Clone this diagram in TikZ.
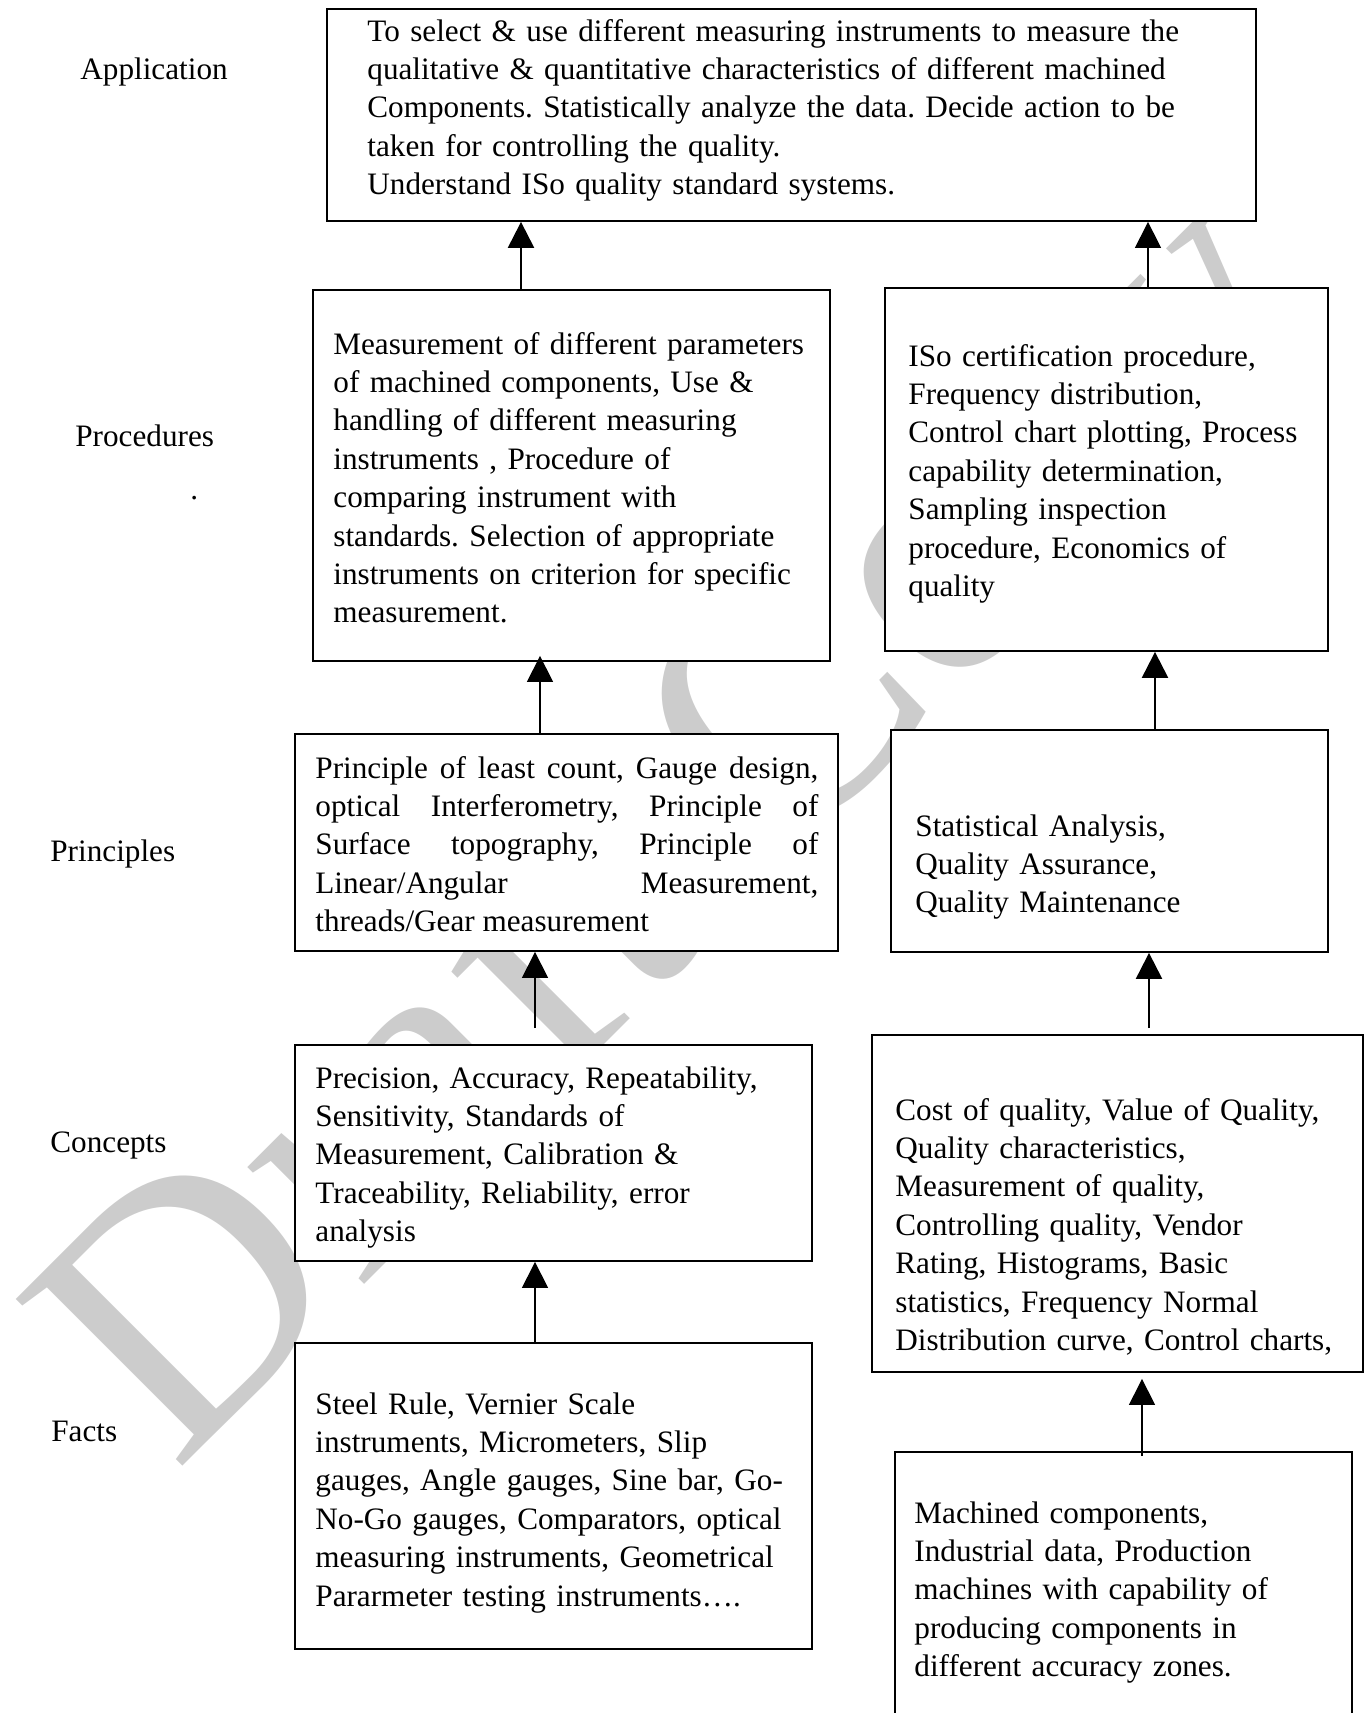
\documentclass[tikz,border=0pt]{standalone}
\usepackage{fontspec}
\setmainfont{Liberation Serif}
\frenchspacing
\usetikzlibrary{arrows.meta,fit}
\tikzset{
  box/.style={draw, fill=white, line width=0.9pt, inner sep=0pt},
  txt/.style={anchor=base west, inner sep=0pt, align=left, font=\fontsize{15.6}{19.2}\selectfont},
  lbl/.style={anchor=base west, inner sep=0pt, font=\fontsize{15.6}{19.2}\selectfont},
  up/.style={-{Triangle[length=13pt,width=13pt]}, line width=0.65pt},
  upthick/.style={up, line width=1.1pt},
  watermark/.style={anchor=base west, inner sep=0pt, rotate=45, text=black!20, font=\fontsize{180}{180}\selectfont}
}
\begin{document}
\begin{tikzpicture}[x=0.5pt, y=-0.5pt]
\useasboundingbox (0,0) rectangle (1369,1713);
\clip (0,0) rectangle (1369,1713);
\node[watermark] (draft) at (175,1474) {Draft Copy};
\node[lbl] (application) at (80,79) {Application};
\node[lbl] (procedures) at (75,446) {Procedures};
\node[lbl] (dot) at (190,499) {.};
\node[lbl] (principles) at (50,861) {Principles};
\node[lbl] (concepts) at (50,1152) {Concepts};
\node[lbl] (facts) at (51,1441) {Facts};
\node[box, fit={(327,9) (1256,221)}] (app) {};
\node[box, fit={(313,290) (830,661)}] (procL) {};
\node[box, fit={(885,288) (1328,651)}] (procR) {};
\node[box, fit={(295,734) (838,951)}] (prinL) {};
\node[box, fit={(891,730) (1328,952)}] (prinR) {};
\node[box, fit={(295,1045) (812,1261)}] (conL) {};
\node[box, fit={(872,1035) (1363,1372)}] (conR) {};
\node[box, fit={(295,1343) (812,1649)}] (factL) {};
\node[box, fit={(895,1452) (1352,1760)}] (factR) {};
\node[txt, text width=444pt] (apptxt) at (367,41) {To select \& use different measuring instruments to measure the\\
qualitative \& quantitative characteristics of different machined\\
Components. Statistically analyze the data. Decide action to be\\
taken for controlling the quality.\\
Understand ISo quality standard systems.};
\node[txt, text width=248pt] (procLtxt) at (333,354) {Measurement of different parameters\\
of machined components, Use \&\\
handling of different measuring\\
instruments , Procedure of\\
comparing instrument with\\
standards. Selection of appropriate\\
instruments on criterion for specific\\
measurement.};
\node[txt, text width=210pt] (procRtxt) at (908,366) {ISo certification procedure,\\
Frequency distribution,\\
Control chart plotting, Process\\
capability determination,\\
Sampling inspection\\
procedure, Economics of\\
quality};
\node[txt, align=justify, text width=251.5pt] (prinLtxt) at (315,778) {Principle of least count, Gauge design,\linebreak
optical Interferometry, Principle of\linebreak
Surface topography, Principle of\linebreak
Linear/Angular Measurement,\linebreak
threads/Gear measurement};
\node[txt, text width=206pt] (prinRtxt) at (915,836) {Statistical Analysis,\\
Quality Assurance,\\
Quality Maintenance};
\node[txt, text width=248pt] (conLtxt) at (315,1088) {Precision, Accuracy, Repeatability,\\
Sensitivity, Standards of\\
Measurement, Calibration \&\\
Traceability, Reliability, error\\
analysis};
\node[txt, text width=234pt] (conRtxt) at (895,1120) {Cost of quality, Value of Quality,\\
Quality characteristics,\\
Measurement of quality,\\
Controlling quality, Vendor\\
Rating, Histograms, Basic\\
statistics, Frequency Normal\\
Distribution curve, Control charts,};
\node[txt, text width=248pt] (factLtxt) at (315,1414) {Steel Rule, Vernier Scale\\
instruments, Micrometers, Slip\\
gauges, Angle gauges, Sine bar, Go-\\
No-Go gauges, Comparators, optical\\
measuring instruments, Geometrical\\
Pararmeter testing instruments….};
\node[txt, text width=219pt] (factRtxt) at (914,1523) {Machined components,\\
Industrial data, Production\\
machines with capability of\\
producing components in\\
different accuracy zones.};
\draw[upthick] (procL.north -| 521,0) -- (app.south -| 521,0);
\draw[up] (procR.north -| 1148,0) -- (app.south -| 1148,0);
\draw[up] (prinL.north -| 540,0) -- ([yshift=3pt]procL.south -| 540,0);
\draw[upthick] (prinR.north -| 1155,0) -- (procR.south -| 1155,0);
\draw[up] ([yshift=8pt]conL.north -| 535,0) -- (prinL.south -| 535,0);
\draw[upthick] ([yshift=3pt]conR.north -| 1149,0) -- (prinR.south -| 1149,0);
\draw[up] (factL.north -| 535,0) -- (conL.south -| 535,0);
\draw[up] ([yshift=-2.5pt]factR.north -| 1142,0) -- ([yshift=-3pt]conR.south -| 1142,0);
\end{tikzpicture}
\end{document}
